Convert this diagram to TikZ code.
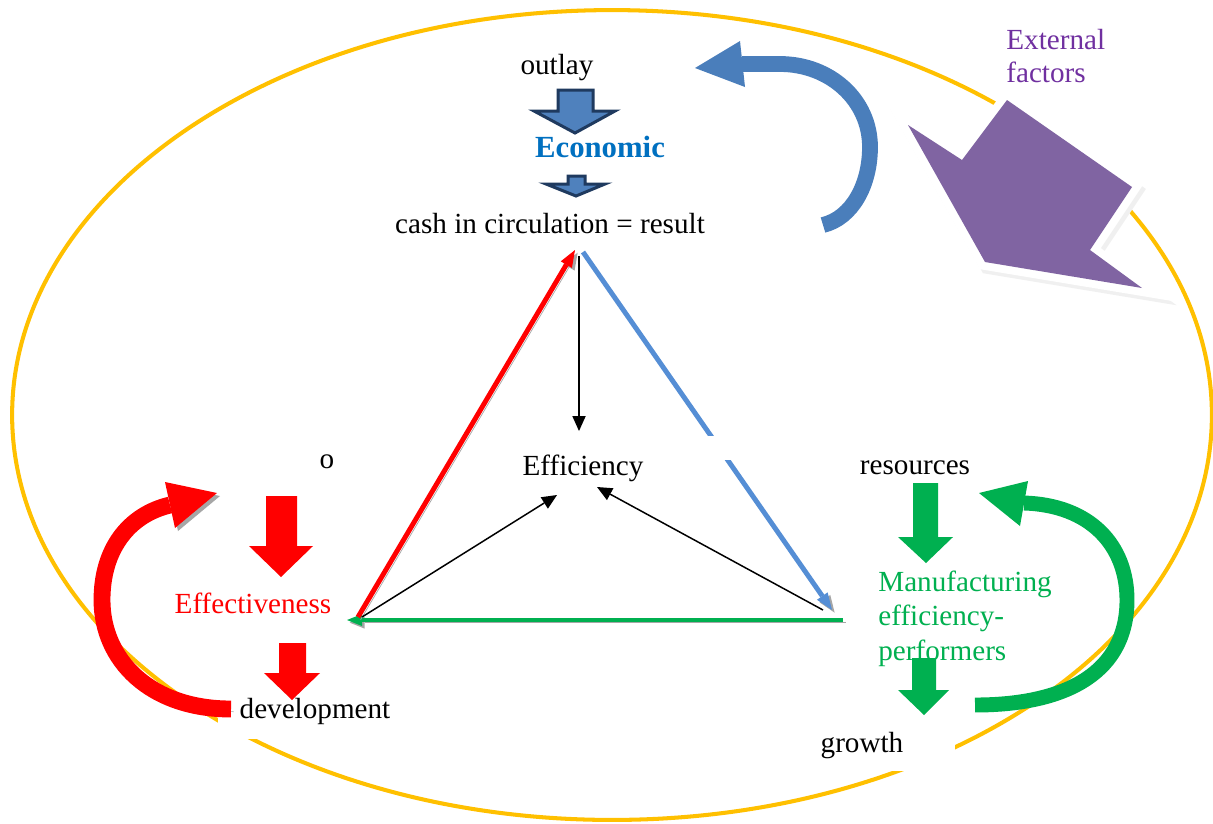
\documentclass[tikz,border=0pt]{standalone}
\usepackage{fontspec}
\setmainfont{Liberation Serif}
\usetikzlibrary{arrows.meta}
\definecolor{ellc}{HTML}{FFC000}
\definecolor{bandblue}{HTML}{4A7EBB}
\definecolor{bfill}{HTML}{4F81BD}
\definecolor{bdark}{HTML}{1F3A5F}
\definecolor{econ}{HTML}{0070C0}
\definecolor{purpfill}{HTML}{8064A2}
\definecolor{purptext}{HTML}{7030A0}
\definecolor{redc}{HTML}{FF0000}
\definecolor{greenc}{HTML}{00B050}
\definecolor{lineblue}{HTML}{558ED5}
\definecolor{shadowgray}{HTML}{A6A6A6}
\begin{document}
\begin{tikzpicture}[x=0.02cm,y=-0.02cm,
  lbl/.style={inner sep=0pt,anchor=base,font=\fontsize{16.6pt}{19.4pt}\selectfont},
  shad/.style={preaction={draw=shadowgray,transform canvas={shift={(1.5pt,-1.5pt)}}}},
  triline/.style={line width=2.8pt},
  thinarrow/.style={line width=0.85pt,-{Triangle[length=0.3cm,width=0.27cm,line width=0pt]}},
  blockblue/.style={fill=bfill,draw=bdark,line width=1.7pt,line join=miter},
  occl/.style={fill=white}]
\useasboundingbox (0,0) rectangle (1213,823);
\fill[white] (0,0) rectangle (1213,823);
% outer ellipse
\draw[ellc,line width=2.3pt] (612,415) ellipse [x radius=12cm,y radius=8.1cm];
% white boxes hiding parts of the ellipse
\fill[occl] (218,690) rectangle (400,739);
\fill[occl] (800,725) rectangle (955,771);

% external factors arrow
\filldraw[gray!12,line width=9pt,line join=miter,shift={(3,4)}]
  (908,125) -- (962,160) -- (1007,100) -- (1132,187) -- (1090,250) -- (1142,288) -- (985,262) -- cycle;
\filldraw[white,line width=9pt,line join=miter]
  (908,125) -- (962,160) -- (1007,100) -- (1132,187) -- (1090,250) -- (1142,288) -- (985,262) -- cycle;
\fill[purpfill]
  (908,125) -- (962,160) -- (1007,100) -- (1132,187) -- (1090,250) -- (1142,288) -- (985,262) -- cycle;

% blue curved arrow
\draw[bandblue,line width=9pt] (823,225) .. controls (852,218) and (870,185) .. (870,147)
  .. controls (870,100) and (830,64) .. (780,64) -- (742,64);
\fill[bandblue] (740,41) -- (695,68) -- (745,87) -- cycle;

% red curved arrow
\draw[redc,line width=9.6pt,shad] (231,709) .. controls (150,709) and (102,660) .. (102,600)
  .. controls (102,550) and (128,515) .. (170,505);
\fill[shadowgray,shift={(3,3)}] (165,482) -- (217,493) -- (175,528) -- cycle;
\fill[redc] (165,482) -- (217,493) -- (175,528) -- cycle;

% green curved arrow
\draw[greenc,line width=8.5pt] (975,705) .. controls (1070,705) and (1127,670) .. (1127,600)
  .. controls (1127,545) and (1090,505) .. (1024,503);
\fill[greenc] (1028,481) -- (979,493) -- (1020,526) -- cycle;

% block arrows
\filldraw[blockblue] (558,90) -- (593,90) -- (593,111) -- (615,111) -- (575,133) -- (534,111) -- (558,111) -- cycle;
\filldraw[blockblue] (568,176) -- (585,176) -- (585,184) -- (605,184) -- (576,196) -- (546,184) -- (568,184) -- cycle;
\fill[redc] (266,496) -- (297,496) -- (297,546) -- (313,546) -- (281,577) -- (249,546) -- (266,546) -- cycle;
\fill[redc] (279,643) -- (306,643) -- (306,673) -- (320,673) -- (292,700) -- (264,673) -- (279,673) -- cycle;
\fill[greenc] (913,483) -- (938,483) -- (938,537) -- (953,537) -- (926,563) -- (898,537) -- (913,537) -- cycle;

% triangle
\coordinate (redS) at (358,617);
\coordinate (redE) at (575,250);
\coordinate (bluS) at (583,252);
\coordinate (bluE) at (832,610);
\coordinate (grS) at (843,620);
\coordinate (grE) at (347,620);
\draw[triline,lineblue,shad,-{Triangle[length=0.34cm,width=0.26cm,line width=0pt]}] (bluS) -- (bluE);
\fill[white] (705,436) rectangle (760,460);
\draw[triline,greenc,shad,-{Triangle[length=0.3cm,width=0.24cm,line width=0pt]}] (grS) -- (grE);
\draw[triline,redc,shad,-{Triangle[length=0.34cm,width=0.26cm,line width=0pt]}] (redS) -- (redE);

% black arrows
\coordinate (k1s) at (579,256);
\coordinate (k1e) at (579,431);
\coordinate (k2s) at (362,617);
\coordinate (k2e) at (557,495);
\coordinate (k3s) at (823,610);
\coordinate (k3e) at (597,487);
\draw[thinarrow] (k1s) -- (k1e);
\draw[thinarrow] (k2s) -- (k2e);
\draw[thinarrow] (k3s) -- (k3e);

% labels
\node[lbl] (outlay) at (557,74) {outlay};
\node[lbl,font=\bfseries\fontsize{17.5pt}{20pt}\selectfont,text=econ] (econ) at (600,157) {Economic};
\node[lbl] (cash) at (550,233) {cash in circulation = result};
\node[lbl] (eff) at (583,475) {Efficiency};
\node[lbl] (o) at (327,468) {o};
\node[lbl,text=redc] (effect) at (253,613) {Effectiveness};
\node[lbl] (dev) at (315,718) {development};
\node[lbl] (res) at (915,474) {resources};
\node[lbl,anchor=base west,align=left,text=greenc] (manu) at (878,660) {Manufacturing\\efficiency-\\performers};
\node[lbl] (growth) at (862,752) {growth};
\node[lbl,anchor=base west,align=left,text=purptext,font=\fontsize{16.6pt}{18.7pt}\selectfont] (ext) at (1006,82) {External\\factors};
% lower green block arrow drawn over the text, as in the reference
\fill[greenc] (912,658) -- (936,658) -- (936,690) -- (949,690) -- (924,715) -- (898,690) -- (912,690) -- cycle;
\end{tikzpicture}
\end{document}
